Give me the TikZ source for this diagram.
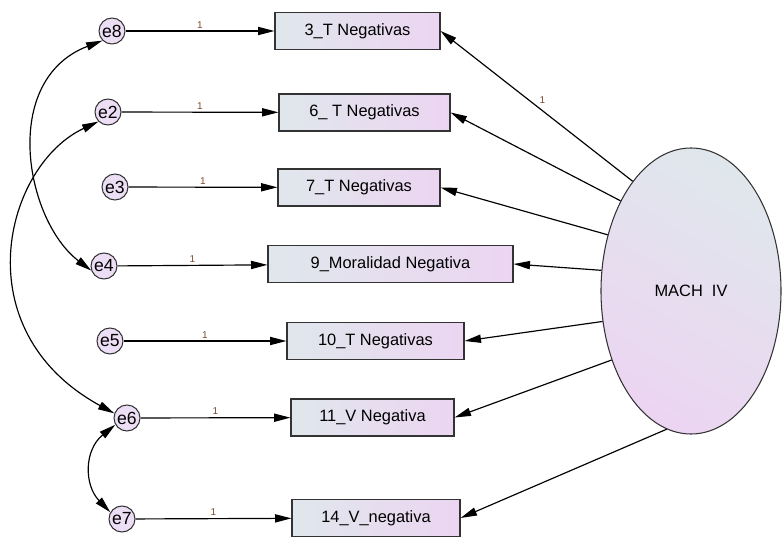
\documentclass[tikz,border=0pt]{standalone}
\usepackage{fontspec}
\setmainfont{Liberation Sans}
\usepackage{tikz}
\usetikzlibrary{positioning}
\usetikzlibrary{arrows.meta,shapes.geometric}
\usetikzlibrary{calc}
\definecolor{boxleft}{RGB}{224,231,236}
\definecolor{boxright}{RGB}{236,213,242}
\definecolor{errfill}{RGB}{236,222,244}
\definecolor{onecolor}{RGB}{125,75,45}
\tikzstyle{errvertex}=[circle,fill=errfill,draw=black!80,line width=0.9pt,minimum size=0.78cm,inner sep=0pt,font=\fontsize{15}{16}\selectfont]
\tikzstyle{obsbox}=[rectangle,draw=black!80,line width=1pt,left color=boxleft,right color=boxright,minimum height=1.11cm,inner sep=0pt,font=\fontsize{14}{16}\selectfont]
\tikzstyle{latent}=[ellipse,draw=black!80,line width=0.9pt,left color=boxleft,right color=boxright,shading angle=-30,minimum width=5.4cm,minimum height=8.58cm,inner sep=0pt,font=\fontsize{14}{16}\selectfont]
\tikzstyle{edge} = [draw,line width=1pt,-{Triangle[length=14pt,width=7pt]}]
\tikzstyle{covedge} = [draw,line width=1pt,{Triangle[length=14pt,width=7pt]}-{Triangle[length=14pt,width=7pt]}]
\tikzstyle{weight} = [font=\fontsize{8.5}{10}\selectfont,text=onecolor,inner sep=2pt]

\begin{document}
\begin{tikzpicture}[x=0.03cm,y=-0.03cm]
    \useasboundingbox (0,0) rectangle (782,538);
    % error terms
    \foreach \pos/\name in {{(112,31)/e8}, {(108,112)/e2}, {(115,187)/e3}, {(104,266)/e4}, {(110,341)/e5}, {(127,418)/e6}, {(122,519)/e7}}
        \node[errvertex] (\name) at \pos {\name};

    % observed variables
    \foreach \pos/\name/\bw/\txt in {{(357.5,31)/b3/4.95cm/3\_T Negativas}, {(364.5,112.5)/b6/5.13cm/6\_ T Negativas}, {(359,187.5)/b7/4.86cm/7\_T Negativas}, {(390.5,264)/b9/7.35cm/9\_Moralidad Negativa}, {(375.5,341)/b10/5.31cm/10\_T Negativas}, {(372.5,417.5)/b11/4.89cm/11\_V Negativa}, {(376,518)/b14/5.04cm/14\_V\_negativa}}
        \node[obsbox,minimum width=\bw] (\name) at \pos {\txt};

    \node[latent] (mach) at (691,291) {MACH\ \ IV};

    % error paths
    \foreach \source/\dest in {e8/b3, e2/b6, e3/b7, e4/b9, e5/b10, e6/b11, e7/b14}
        \path[edge] (\source) -- node[weight,above] {1} (\dest);

    % loadings
    \foreach \ang/\dest/\weight in {118/b3/1, 128/b6/{}, 146/b7/{}, 167/b9/{}, 199/b10/{}, 221/b11/{}, 260/b14/{}}
        \path[edge] (mach.\ang) -- node[weight,above right=0pt] {\weight} (\dest.east);

    % covariances
    \path[covedge] (e8.225) .. controls (0,80) and (25,220) .. (e4.200);
    \path[covedge] (e2.225) .. controls (5,165) and (-38,330) .. (e6.160);
    \path[covedge] (e6.210) .. controls (84,450) and (84,485) .. (e7.150);
\end{tikzpicture}
\end{document}
